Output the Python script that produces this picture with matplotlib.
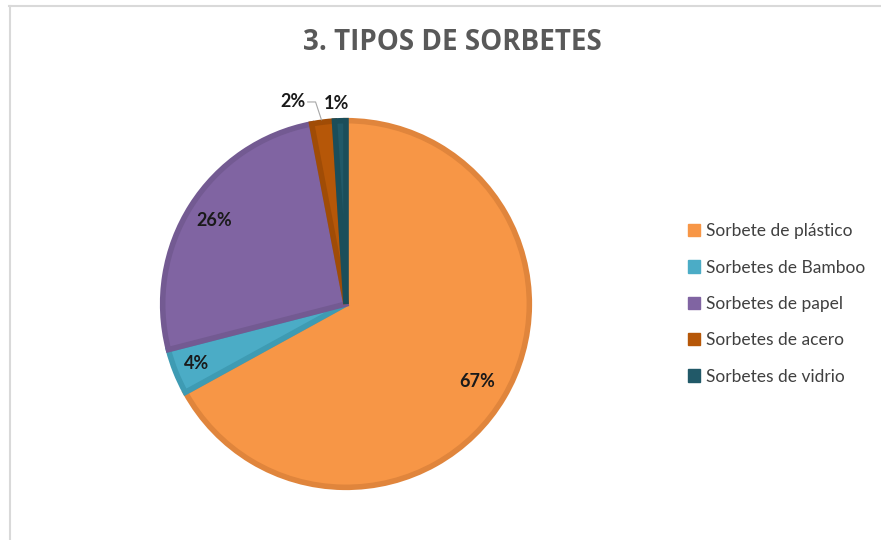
import matplotlib
matplotlib.use("Agg")
import matplotlib.pyplot as plt
import numpy as np
from matplotlib.patches import Patch
from matplotlib.lines import Line2D

categories = ["Sorbete de plástico", "Sorbetes de Bamboo", "Sorbetes de papel",
              "Sorbetes de acero", "Sorbetes de vidrio"]
values = [67, 4, 26, 2, 1]
pct_labels = ["67%", "4%", "26%", "2%", "1%"]
title = "3. TIPOS DE SORBETES"

fills = ["#F79646", "#4BACC6", "#8064A2", "#B65708", "#215968"]
edges = ["#E0853C", "#3E9BB3", "#735A92", "#A04C06", "#1B4E5A"]

W, H = 881, 540
fig = plt.figure(figsize=(W / 100, H / 100), dpi=100)

# frame lines (top and left)
fig.add_artist(Line2D([9 / W, 1.0], [1 - 6 / H, 1 - 6 / H], color="#D9D9D9", lw=1.5))
fig.add_artist(Line2D([10 / W, 10 / W], [0, 1 - 6 / H], color="#D9D9D9", lw=1.5))

cx, cy, r = 346, 304, 187
ax = fig.add_axes([(cx - r) / W, (H - cy - r) / H, 2 * r / W, 2 * r / H])
wedges, _ = ax.pie(values, colors=fills, startangle=90, counterclock=False,
                   radius=1.0, wedgeprops=dict(linewidth=4))
for w, ec in zip(wedges, edges):
    w.set_edgecolor(ec)
    w.set_joinstyle("miter")
ax.set_xlim(-1.02, 1.02)
ax.set_ylim(-1.02, 1.02)
ax.set_aspect("equal")
ax.axis("off")

lab_font = dict(family=["Lato", "DejaVu Sans"], fontsize=13, fontweight="bold", color="#1a1a1a")
total = sum(values)
cum = 0
dists = [0.83, 0.875, 0.85]
for i, v in enumerate(values):
    mid = 90 - (cum + v / 2) / total * 360
    cum += v
    if i < 3:
        a = np.deg2rad(mid)
        ax.text(dists[i] * np.cos(a), dists[i] * np.sin(a), pct_labels[i],
                ha="center", va="center", **lab_font)

# small slice labels
ax.text(-0.289, 1.107, pct_labels[3], ha="center", va="center", clip_on=False, **lab_font)
ax.text(-0.053, 1.091, pct_labels[4], ha="center", va="center", clip_on=False, **lab_font)
ax.plot([-0.209, -0.166, -0.134], [1.102, 1.102, 1.005], color="#A6A6A6", lw=0.8, clip_on=False)

fig.text(452 / W, 1 - 43 / H, title, ha="center", va="center",
         family=["Open Sans", "DejaVu Sans"], fontsize=20, fontweight="bold", color="#595959")

handles = [Patch(facecolor=f, edgecolor=f) for f in fills]
leg = fig.legend(handles, categories, loc="center left", bbox_to_anchor=(672 / W, 1 - 304 / H),
                 frameon=False, handlelength=0.72, handleheight=0.72, handletextpad=0.35,
                 labelspacing=1.17, prop=dict(family=["Lato", "DejaVu Sans"], size=12.5))
for t in leg.get_texts():
    t.set_color("#404040")

fig.savefig("out.png", dpi=100)
